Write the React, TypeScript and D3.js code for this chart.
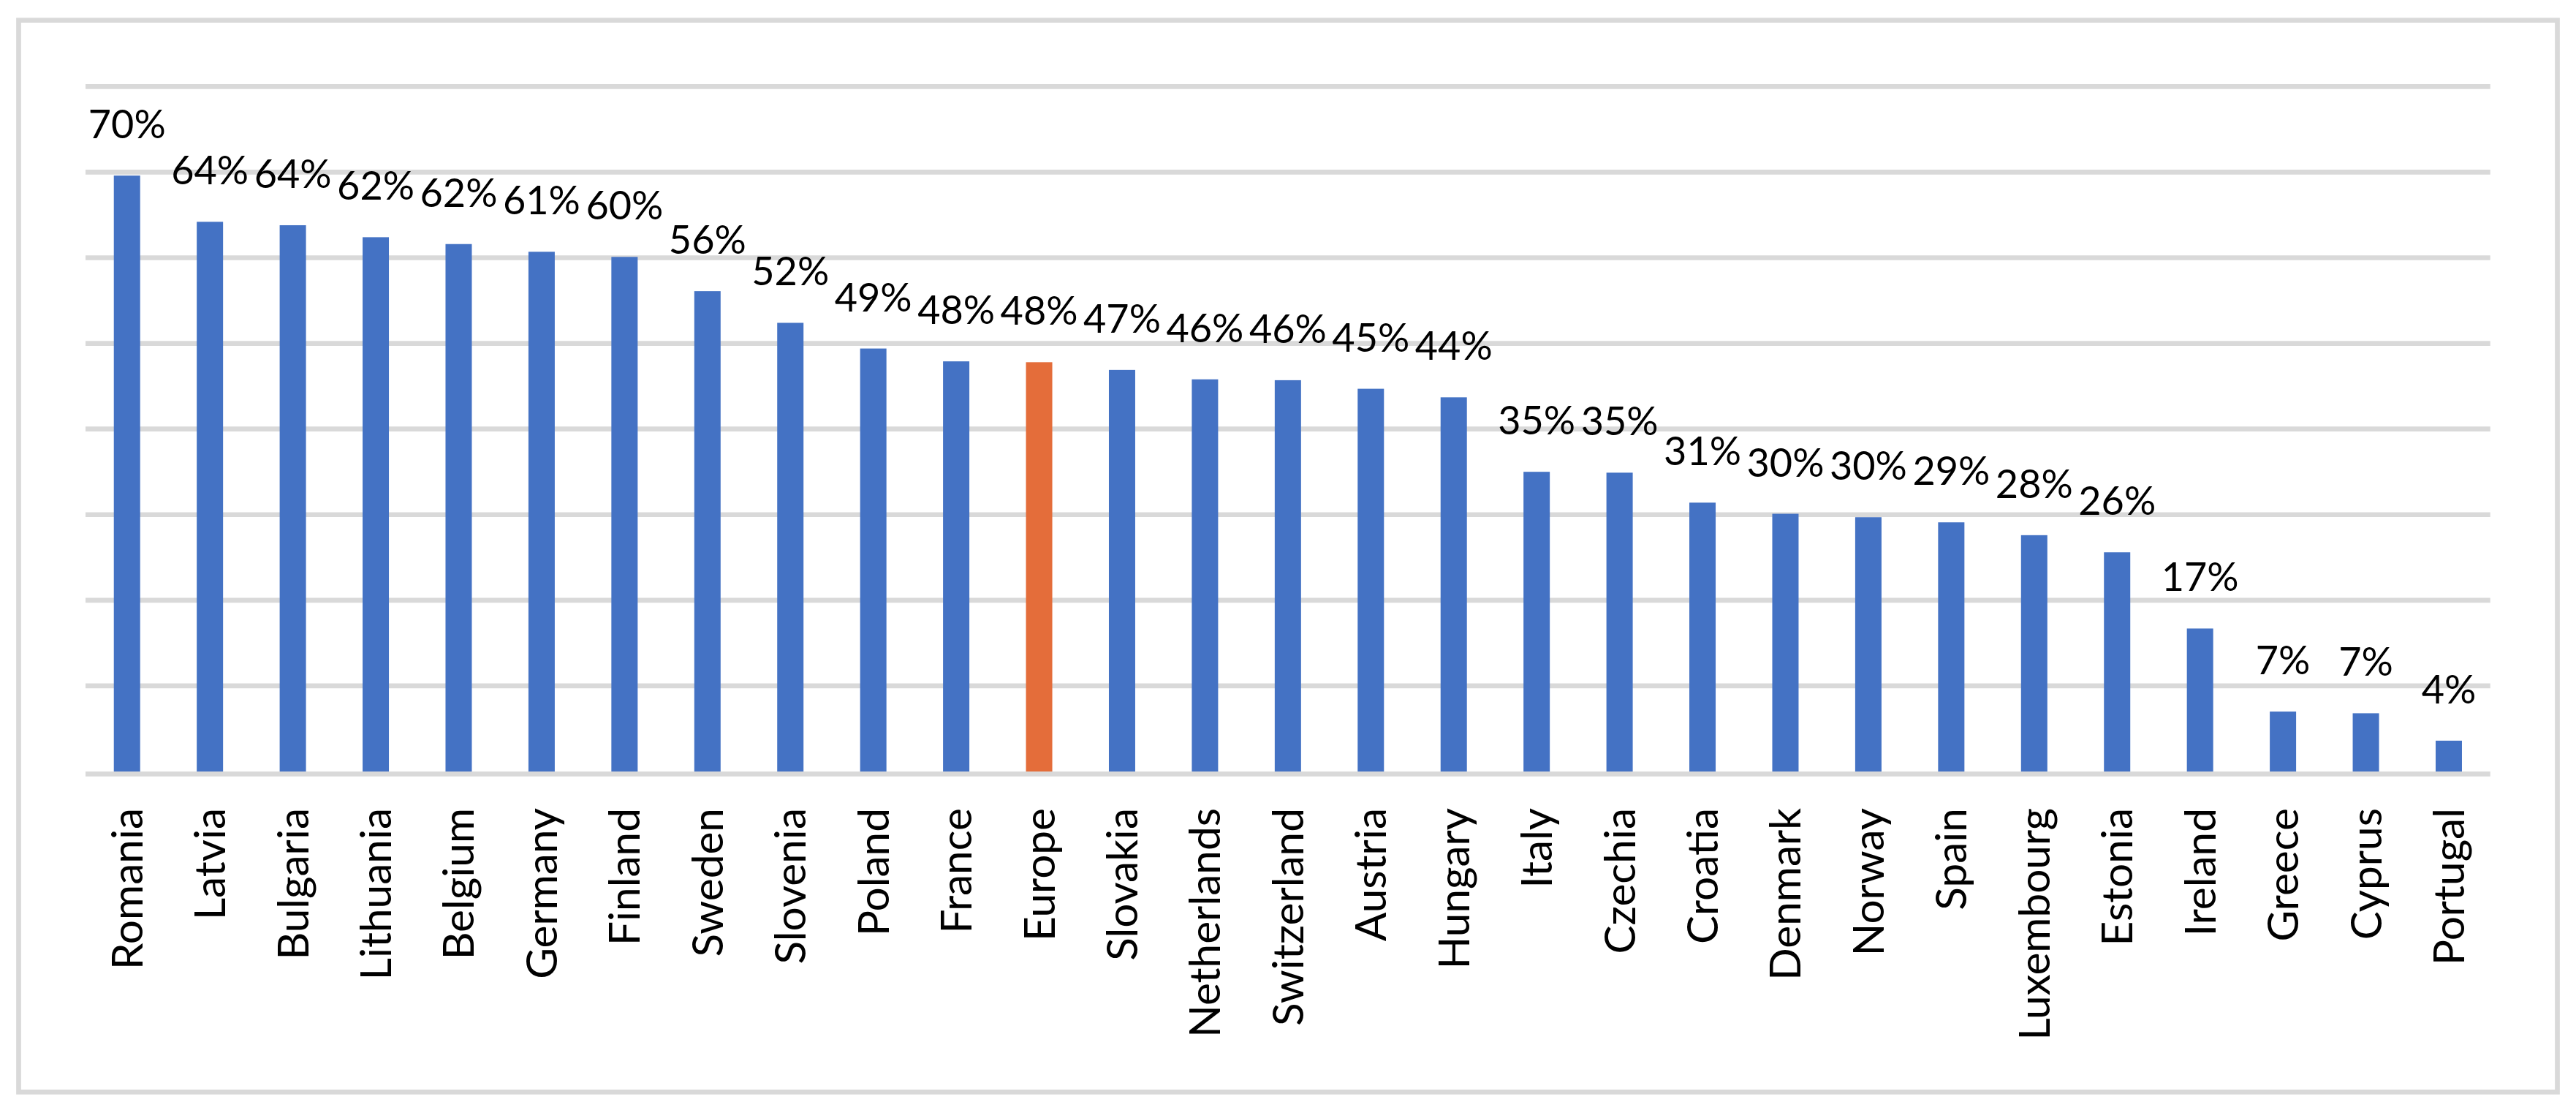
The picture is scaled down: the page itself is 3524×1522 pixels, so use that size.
import React from "react";
import * as d3 from "d3";

const countries: string[] = [
  "Romania", "Latvia", "Bulgaria", "Lithuania", "Belgium", "Germany", "Finland",
  "Sweden", "Slovenia", "Poland", "France", "Europe", "Slovakia", "Netherlands",
  "Switzerland", "Austria", "Hungary", "Italy", "Czechia", "Croatia", "Denmark",
  "Norway", "Spain", "Luxembourg", "Estonia", "Ireland", "Greece", "Cyprus", "Portugal",
];

const shares: number[] = [
  0.696, 0.642, 0.638, 0.624, 0.616, 0.607, 0.601,
  0.561, 0.524, 0.494, 0.479, 0.478, 0.469, 0.458,
  0.457, 0.447, 0.437, 0.350, 0.349, 0.314, 0.301,
  0.297, 0.291, 0.276, 0.256, 0.167, 0.070, 0.068, 0.036,
];

const highlighted: string[] = ["Europe"];

const gridTicks: number[] = [0, 0.1, 0.2, 0.3, 0.4, 0.5, 0.6, 0.7, 0.8];

const W = 3524;
const H = 1522;
const FONT = "Lato, 'Open Sans', sans-serif";

export default function App() {
  const x = d3
    .scaleBand<string>()
    .domain(countries)
    .range([117, 3406.7])
    .paddingInner(0.6827)
    .paddingOuter(0.6827 / 2);
  const y = d3.scaleLinear().domain([0, 0.8]).range([1055, 118.3]);
  const fmt = d3.format(".0%");
  const gridW = 6.7;

  return (
    <svg
      width={W}
      height={H}
      style={{ position: "absolute", left: 0, top: 0, display: "block", background: "#fff" }}
    >
      <rect x={0} y={0} width={W} height={H} fill="#ffffff" />
      <rect
        x={25.5}
        y={27.7}
        width={3498.5 - 25.5}
        height={1493.3 - 27.7}
        fill="none"
        stroke="#d9d9d9"
        strokeWidth={6.7}
      />
      {gridTicks.map((t) => {
        const yy = t === 0 ? y(t) + gridW / 2 : y(t);
        return (
          <line
            key={"g" + t}
            x1={x.range()[0]}
            x2={x.range()[1]}
            y1={yy}
            y2={yy}
            stroke="#d9d9d9"
            strokeWidth={gridW}
          />
        );
      })}
      {countries.map((c, i) => (
        <rect
          key={"b" + c}
          x={x(c)}
          y={y(shares[i])}
          width={x.bandwidth()}
          height={y(0) - y(shares[i])}
          fill={highlighted.includes(c) ? "#E46D3A" : "#4472C4"}
        />
      ))}
      {countries.map((c, i) => (
        <text
          key={"v" + c}
          x={(x(c) as number) + x.bandwidth() / 2}
          y={y(shares[i]) - 51}
          textAnchor="middle"
          fontFamily={FONT}
          fontSize={54}
          fill="#000"
        >
          {fmt(shares[i])}
        </text>
      ))}
      {countries.map((c) => {
        const cx = (x(c) as number) + x.bandwidth() / 2;
        return (
          <text
            key={"c" + c}
            transform={`translate(${cx},1105) rotate(-90)`}
            dy={21}
            textAnchor="end"
            fontFamily={FONT}
            fontSize={58.5}
            fill="#000"
          >
            {c}
          </text>
        );
      })}
    </svg>
  );
}
